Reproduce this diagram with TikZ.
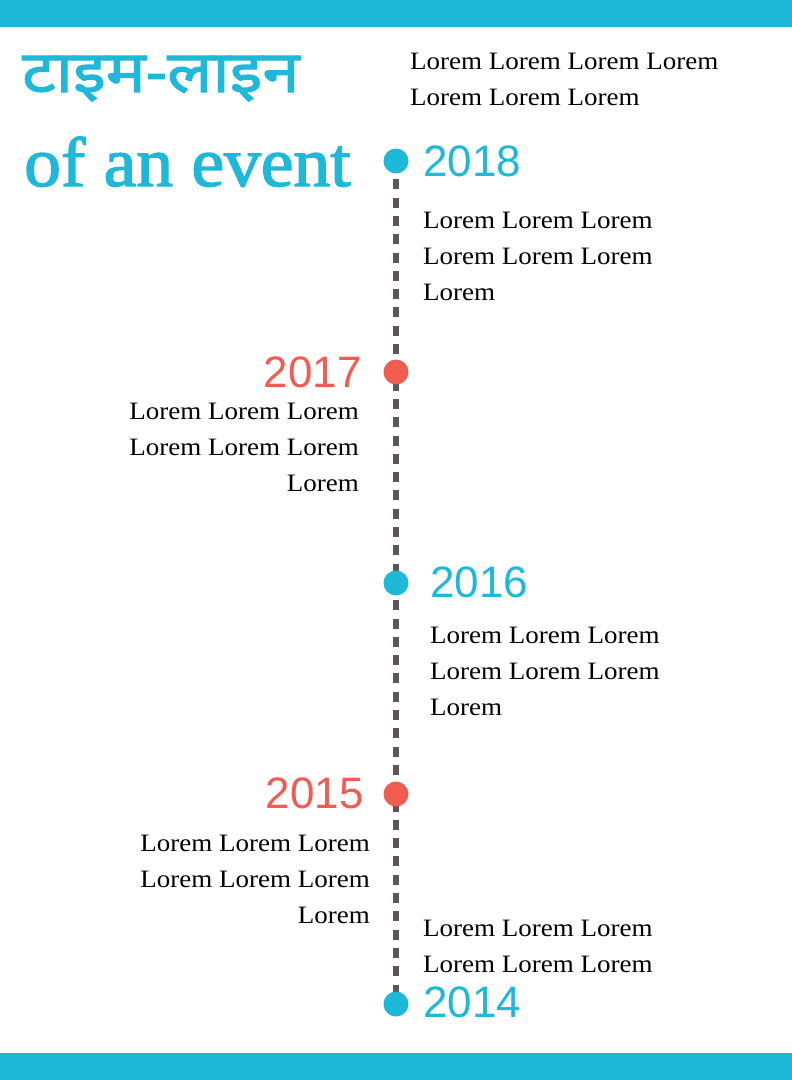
\documentclass[tikz,border=0pt]{standalone}
\usepackage{fontspec}
\setmainfont{Liberation Serif}
\newfontfamily\yearfont{Liberation Sans}
\newfontfamily\devafont[Script=Devanagari, FakeBold=2, FakeStretch=1.15]{Noto Sans}
\newfontfamily\bodyfont[FakeStretch=1.08]{Liberation Serif}
\newfontfamily\subtitlefont[FakeBold=2, FakeStretch=1.05]{Liberation Serif}
\usetikzlibrary{backgrounds}
\definecolor{tlcyan}{RGB}{30,184,216}
\definecolor{tlred}{RGB}{240,92,80}
\definecolor{tlline}{RGB}{94,85,88}
\begin{document}
\begin{tikzpicture}[x=1pt,y=-1pt,
  bar/.style={fill=tlcyan, draw=none},
  dotnode/.style={circle, fill=#1, inner sep=0pt, minimum size=25pt},
  year/.style={font=\yearfont\fontsize{44}{44}\selectfont, text=#1, inner sep=0pt},
  body/.style={font=\bodyfont\fontsize{25}{36}\selectfont, inner sep=0pt, text=black},
  timeline/.style={draw=tlline, line width=6.2pt, dash pattern=on 10pt off 8.3pt}
]
\useasboundingbox (0,0) rectangle (792,1080);
\fill[bar] (0,0) rectangle (792,27);
\fill[bar] (0,1053) rectangle (792,1080);

% title
\node[anchor=base west, inner sep=0pt, text=tlcyan, font=\devafont\fontsize{58}{58}\selectfont] (t1) at (22,92) {टाइम-लाइन};
\node[anchor=base west, inner sep=0pt, text=tlcyan, font=\subtitlefont\fontsize{70}{70}\selectfont] (t2) at (24,186) {of an event};

% base anchor of a multi-line node = baseline of its last line
\node[body, anchor=base west, align=left] (intro) at (410,105) {Lorem Lorem Lorem Lorem\\Lorem Lorem Lorem};

% dots
\node[dotnode=tlcyan] (d18) at (396,161) {};
\node[dotnode=tlred]  (d17) at (396,372) {};
\node[dotnode=tlcyan] (d16) at (396,583) {};
\node[dotnode=tlred]  (d15) at (396,794) {};
\node[dotnode=tlcyan] (d14) at (396,1004) {};
\begin{scope}[on background layer]
\fill[white] (0,27) rectangle (792,1053);
\draw[timeline] (d18.center) -- (d14.center);
\end{scope}

% years
\node[year=tlcyan, anchor=base west] (y18) at (423,176) {2018};
\node[year=tlred, anchor=base east] (y17) at (362,387) {2017};
\node[year=tlcyan, anchor=base west] (y16) at (430,597) {2016};
\node[year=tlred, anchor=base east] (y15) at (364,808) {2015};
\node[year=tlcyan, anchor=base west] (y14) at (423,1017) {2014};

% texts
\node[body, anchor=base west, align=left] (b18) at (423,300) {Lorem Lorem Lorem\\Lorem Lorem Lorem\\Lorem};
\node[body, anchor=base east, align=right] (b17) at (359,491) {Lorem Lorem Lorem\\Lorem Lorem Lorem\\Lorem};
\node[body, anchor=base west, align=left] (b16) at (430,715) {Lorem Lorem Lorem\\Lorem Lorem Lorem\\Lorem};
\node[body, anchor=base east, align=right] (b15) at (370,923) {Lorem Lorem Lorem\\Lorem Lorem Lorem\\Lorem};
\node[body, anchor=base west, align=left] (b14) at (423,972) {Lorem Lorem Lorem\\Lorem Lorem Lorem};
\end{tikzpicture}
\end{document}
